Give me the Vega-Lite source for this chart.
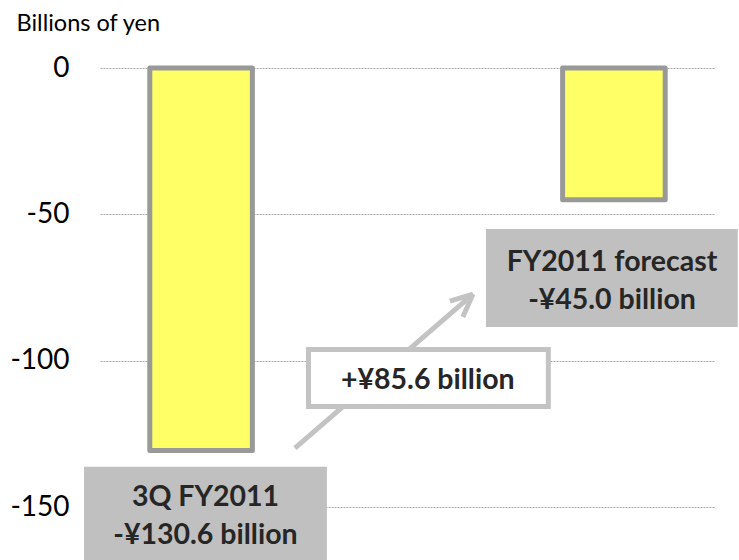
{
  "$schema": "https://vega.github.io/schema/vega-lite/v6.json",
  "autosize": "none",
  "width": 615,
  "height": 492,
  "padding": {"left": 100, "top": 68, "right": 24, "bottom": 0},
  "background": "white",
  "config": {"view": {"stroke": null}, "font": "Lato"},
  "resolve": {"scale": {"x": "independent"}, "axis": {"x": "independent"}},
  "layer": [
    {
      "data": {"values": [
        {"period": "3Q FY2011", "value": -130.6},
        {"period": "FY2011 forecast", "value": -45.0}
      ]},
      "mark": {"type": "bar", "fill": "#FFFF66", "stroke": "#999999", "strokeWidth": 5, "strokeJoin": "round"},
      "encoding": {
        "x": {"field": "period", "type": "nominal", "sort": null, "axis": null,
              "scale": {"paddingInner": 0.7515, "paddingOuter": 0.1206}},
        "y": {"field": "value", "type": "quantitative",
              "scale": {"domain": [-168, 0], "nice": false, "zero": false},
              "axis": {"title": "Billions of yen", "titleAngle": 0, "titleX": -84, "titleY": -38,
                       "titleAlign": "left", "titleBaseline": "alphabetic", "titleFont": "Lato",
                       "titleFontSize": 23.5, "titleFontWeight": "normal", "titleColor": "#000000",
                       "values": [0, -50, -100, -150], "domain": false, "ticks": false,
                       "labelExpr": "'' + datum.value",
                       "labelPadding": 31, "labelFont": "Lato", "labelFontSize": 28, "labelColor": "#000000",
                       "grid": true, "gridColor": "#A6A6A6", "gridDash": [2, 1], "gridWidth": 1}}
      }
    },
    {
      "data": {"values": [
        {"x": 31.7, "y": -129.8, "x2": 60.65, "y2": -77.2},
        {"x": 60.65, "y": -77.2, "x2": 56.9, "y2": -79.6},
        {"x": 60.65, "y": -77.2, "x2": 59.0, "y2": -85.0}
      ]},
      "mark": {"type": "rule", "stroke": "#C3C3C3", "strokeWidth": 5},
      "encoding": {
        "x": {"field": "x", "type": "quantitative", "scale": {"domain": [0, 100]}, "axis": null},
        "x2": {"field": "x2"},
        "y": {"field": "y", "type": "quantitative"},
        "y2": {"field": "y2"}
      }
    },
    {
      "data": {"values": [
        {"x": -2.6, "x2": 36.9, "y": -136.2, "y2": -170, "kind": "start"},
        {"x": 62.76, "x2": 103.7, "y": -55.0, "y2": -88.4, "kind": "end"}
      ]},
      "mark": {"type": "rect", "fill": "#C0C0C0"},
      "encoding": {
        "x": {"field": "x", "type": "quantitative", "scale": {"domain": [0, 100]}, "axis": null},
        "x2": {"field": "x2"},
        "y": {"field": "y", "type": "quantitative"},
        "y2": {"field": "y2"}
      }
    },
    {
      "data": {"values": [
        {"x": 33.9, "x2": 72.9, "y": -96.1, "y2": -115.6}
      ]},
      "mark": {"type": "rect", "fill": "#FFFFFF", "stroke": "#C3C3C3", "strokeWidth": 5},
      "encoding": {
        "x": {"field": "x", "type": "quantitative", "scale": {"domain": [0, 100]}, "axis": null},
        "x2": {"field": "x2"},
        "y": {"field": "y", "type": "quantitative"},
        "y2": {"field": "y2"}
      }
    },
    {
      "data": {"values": [
        {"x": 17.15, "y": -146.5, "label": "3Q FY2011"},
        {"x": 17.15, "y": -159.5, "label": "-¥130.6 billion"},
        {"x": 83.25, "y": -66.2, "label": "FY2011 forecast"},
        {"x": 83.25, "y": -79.2, "label": "-¥45.0 billion"},
        {"x": 53.3, "y": -106.5, "label": "+¥85.6 billion"}
      ]},
      "mark": {"type": "text", "font": "Lato", "fontSize": 28.5, "fontWeight": "bold", "color": "#262626",
               "align": "center", "baseline": "middle"},
      "encoding": {
        "x": {"field": "x", "type": "quantitative", "scale": {"domain": [0, 100]}, "axis": null},
        "y": {"field": "y", "type": "quantitative"},
        "text": {"field": "label"}
      }
    }
  ]
}
